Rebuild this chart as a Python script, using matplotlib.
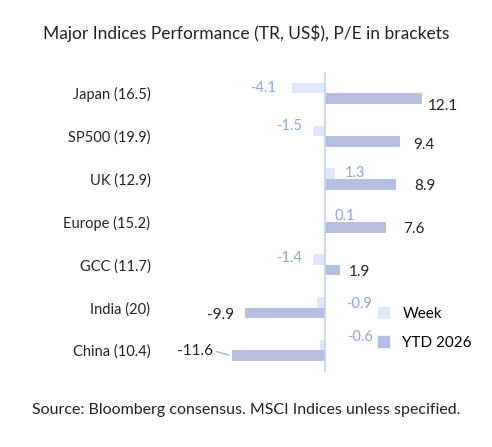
import matplotlib
matplotlib.use("Agg")
import matplotlib.pyplot as plt
import numpy as np
from matplotlib.patches import Patch

plt.rcParams['font.family'] = ['Lato', 'DejaVu Sans']

categories = ["Japan (16.5)", "SP500 (19.9)", "UK (12.9)", "Europe (15.2)", "GCC (11.7)", "India (20)", "China (10.4)"]
week = [-4.1, -1.5, 1.3, 0.1, -1.4, -0.9, -0.6]
ytd = [12.1, 9.4, 8.9, 7.6, 1.9, -9.9, -11.6]
week_lbl_off = [(-29, 0), (-23, 5), (20, 1), (19, 1), (-24, 1), (42, -2), (40, 8)]
ytd_lbl_off = [(21, -7), (24, -3), (29, -2), (28, -2), (20, -2), (-25, -2), (-37, 5)]

c_week = "#e0e7f8"
c_ytd = "#b7bfe0"
c_wtxt = "#8ea6d8"

fig = plt.figure(figsize=(4.92, 4.47), dpi=100)
ax = fig.add_axes([0.461, 0.168, 0.484, 0.671])
y = np.arange(len(categories))
h = 0.25
ax.barh(y - h/2, week, height=h, color=c_week)
ax.barh(y + h/2, ytd, height=h, color=c_ytd)
ax.set_ylim(len(categories) - 0.5, -0.5)
ax.set_xlim(-12.2, 17.5)
ax.axvline(0, color="#c5d5ee", lw=1.3)
for s in ax.spines.values():
    s.set_visible(False)
ax.set_xticks([])
ax.set_yticks(y)
ax.set_yticklabels(categories, fontsize=10.5, color="#222222")
ax.tick_params(axis='y', length=0, pad=55)

for i in range(len(categories)):
    dx, dy = week_lbl_off[i]
    ax.annotate(f"{week[i]:.1f}", (week[i], y[i] - h/2), xytext=(dx, dy),
                textcoords="offset pixels", ha="center", va="center", fontsize=10.5, color=c_wtxt)
    dx, dy = ytd_lbl_off[i]
    ax.annotate(f"{ytd[i]:.1f}", (ytd[i], y[i] + h/2), xytext=(dx, dy),
                textcoords="offset pixels", ha="center", va="center", fontsize=11, color="#222222")
ax.annotate("", (ytd[6], y[6] + h/2), xytext=(-18, 5), textcoords="offset pixels",
            arrowprops=dict(arrowstyle="-", color="#9fb6e0", lw=1))

fig.legend(handles=[Patch(color=c_week, label="Week"), Patch(color=c_ytd, label="YTD 2026")],
           loc="upper left", bbox_to_anchor=(0.74, 0.345), frameon=False, fontsize=11,
           handlelength=0.7, handleheight=0.7, labelspacing=1.0, handletextpad=0.9)

fig.text(0.5, 0.925, "Major Indices Performance (TR, US$), P/E in brackets", ha="center",
         va="center", fontsize=12.5, color="#222222")
fig.text(0.5, 0.083, "Source: Bloomberg consensus. MSCI Indices unless specified.", ha="center",
         va="center", fontsize=11.5, color="#222222")
fig.savefig("out.png", dpi=100)
